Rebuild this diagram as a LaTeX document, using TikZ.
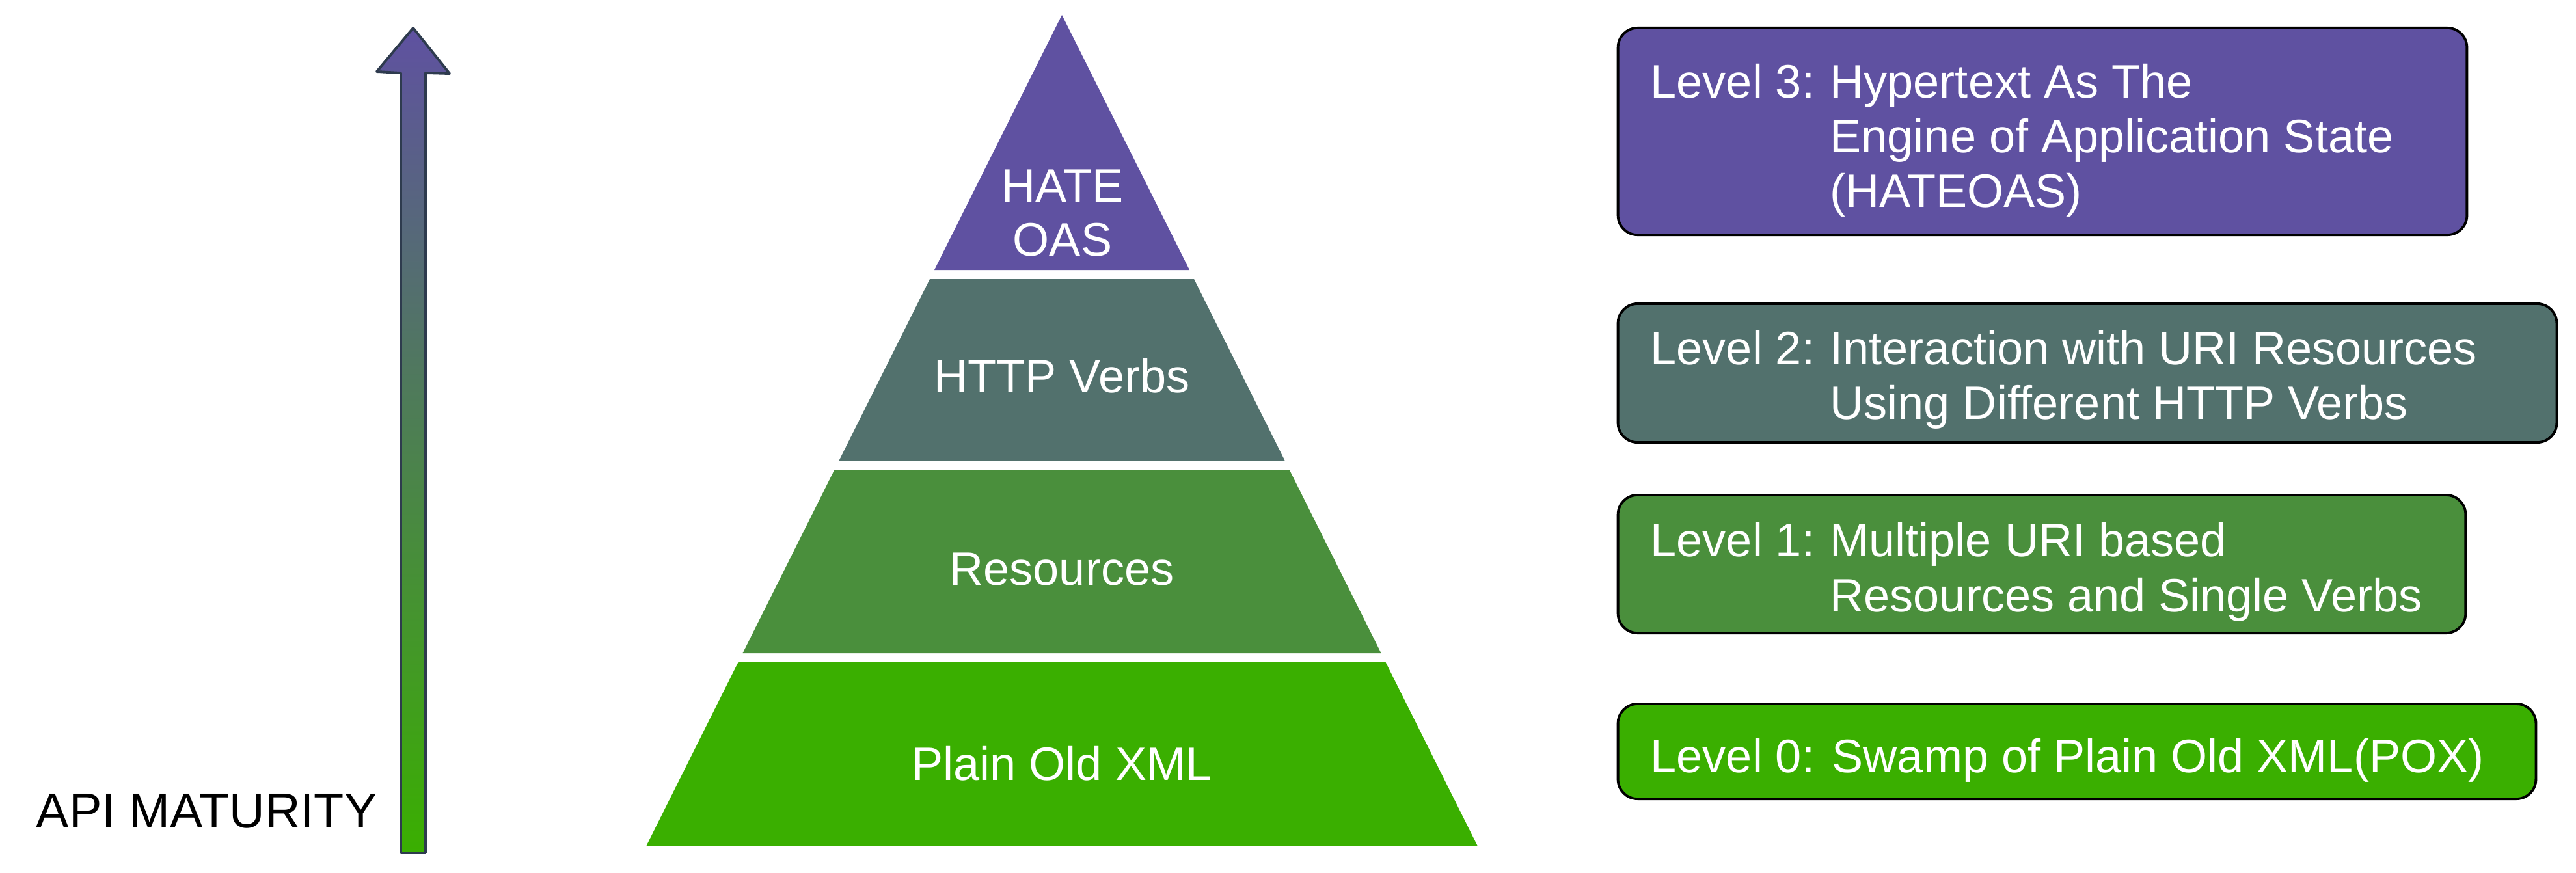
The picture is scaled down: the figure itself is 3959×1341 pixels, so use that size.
\documentclass[tikz,border=0pt]{standalone}
\usepackage{fontspec}
\setmainfont{Liberation Sans}
\definecolor{lvthree}{HTML}{5F51A1}
\definecolor{lvtwo}{HTML}{52716D}
\definecolor{lvone}{HTML}{4A8F3C}
\definecolor{lvzero}{HTML}{3AAF00}
\definecolor{arrowline}{HTML}{2E3B4E}
\begin{document}
\begin{tikzpicture}[x=0.01cm,y=-0.01cm,
  lbl/.style={font=\fontsize{20.5}{24}\selectfont, text=white, inner sep=0pt},
  blk/.style={font=\fontsize{21.5}{25}\selectfont, text=black, inner sep=0pt},
  lvbox/.style={draw=black, line width=1.1pt, rounded corners=0.3cm, inner sep=0pt}]
\useasboundingbox (0,0) rectangle (3959,1341);
% maturity arrow
\shadedraw[draw=arrowline, line width=1.1pt, line join=round, top color=lvthree, bottom color=lvzero]
  (616,1311) -- (616,112) -- (579,110) -- (635,43) -- (691,113) -- (654,112) -- (654,1311) -- cycle;
\node[blk, anchor=base west] (api) at (55,1272) {API MATURITY};
% pyramid
\fill[lvthree] (1632,23) -- (1828,415) -- (1436,415) -- cycle;
\fill[lvtwo] (1429,429) -- (1835,429) -- (1974.5,708) -- (1289.5,708) -- cycle;
\fill[lvone] (1282.5,722) -- (1981.5,722) -- (2122.5,1004) -- (1141.5,1004) -- cycle;
\fill[lvzero] (1134.5,1018) -- (2129.5,1018) -- (2270.5,1300) -- (993.5,1300) -- cycle;
\node[lbl, anchor=base] (p3a) at (1633,310) {HATE};
\node[lbl, anchor=base] (p3b) at (1633,393) {OAS};
\node[lbl, anchor=base] (p2) at (1632,603) {HTTP Verbs};
\node[lbl, anchor=base] (p1) at (1632,899) {Resources};
\node[lbl, anchor=base] (p0) at (1632,1199) {Plain Old XML};
% level boxes
\node[lvbox, fill=lvthree, minimum width=13.04cm, minimum height=3.18cm] (b3) at (3139,202) {};
\node[lvbox, fill=lvtwo, minimum width=14.42cm, minimum height=2.13cm] (b2) at (3208,573.5) {};
\node[lvbox, fill=lvone, minimum width=13.02cm, minimum height=2.12cm] (b1) at (3138,867) {};
\node[lvbox, fill=lvzero, minimum width=14.10cm, minimum height=1.46cm] (b0) at (3192,1155) {};
\node[lbl, anchor=base west] (b3l) at (2536,150) {Level 3:};
\node[lbl, anchor=base west] (b3a) at (2812,150) {Hypertext As The};
\node[lbl, anchor=base west] (b3b) at (2812,234) {Engine of Application State};
\node[lbl, anchor=base west] (b3c) at (2812,318) {(HATEOAS)};
\node[lbl, anchor=base west] (b2l) at (2536,560) {Level 2:};
\node[lbl, anchor=base west] (b2a) at (2812,560) {Interaction with URI Resources};
\node[lbl, anchor=base west] (b2b) at (2812,644) {Using Different HTTP Verbs};
\node[lbl, anchor=base west] (b1l) at (2536,855) {Level 1:};
\node[lbl, anchor=base west] (b1a) at (2812,855) {Multiple URI based};
\node[lbl, anchor=base west] (b1b) at (2812,940) {Resources and Single Verbs};
\node[lbl, anchor=base west] (b0l) at (2536,1187) {Level 0: Swamp of Plain Old XML(POX)};
\end{tikzpicture}
\end{document}
